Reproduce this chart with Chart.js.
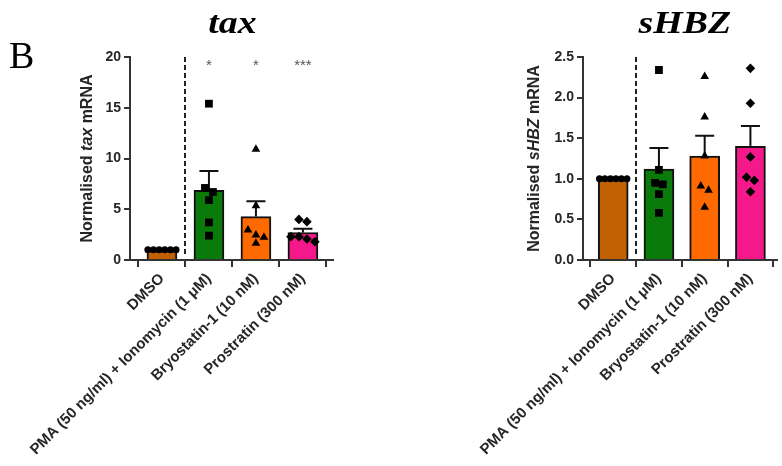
<!DOCTYPE html>
<html lang="en">
<head>
<meta charset="UTF-8" />
<title>tax and sHBZ mRNA</title>
<script src="https://cdn.jsdelivr.net/npm/chart.js"></script>
<style>
  body { margin: 0; background: #fff; }
  .wrap { position: relative; width: 782px; height: 466px; }
  canvas { position: absolute; top: 0; }
  #taxChart { left: 0; }
  #hbzChart { left: 391px; }
</style>
</head>
<body>
<div class="wrap">
  <canvas id="taxChart" width="391" height="466"></canvas>
  <canvas id="hbzChart" width="391" height="466"></canvas>
</div>
<script>
  // data
  const categories = ['DMSO', 'PMA (50 ng/ml) + Ionomycin (1 μM)', 'Bryostatin-1 (10 nM)', 'Prostratin (300 nM)'];

  const taxMean = [1.0, 6.87, 4.28, 2.71];
  const taxSem = [0, 1.9, 1.5, 0.37];
  const taxPoints = [
    [1, 1, 1, 1, 1, 1],
    [15.4, 7.1, 6.7, 5.9, 3.7, 2.4],
    [10.9, 5.35, 2.96, 2.46, 2.24, 1.64],
    [4.0, 3.78, 2.3, 2.3, 2.07, 1.8]
  ];
  const taxStars = ['', '*', '*', '***'];
  const taxTicks = [0, 5, 10, 15, 20];

  const hbzMean = [1.0, 1.12, 1.28, 1.40];
  const hbzSem = [0, 0.26, 0.25, 0.25];
  const hbzPoints = [
    [1, 1, 1, 1, 1, 1],
    [2.34, 1.11, 0.95, 0.93, 0.81, 0.58],
    [2.26, 1.76, 1.28, 0.91, 0.86, 0.65],
    [2.36, 1.93, 1.27, 1.02, 0.98, 0.84]
  ];
  const hbzStars = ['', '', '', ''];
  const hbzTicks = [0, 0.5, 1.0, 1.5, 2.0, 2.5];

  const barColors = ['#c16104', '#0a7b0a', '#ff6a00', '#f5188b'];
  const markerStyles = ['circle', 'rect', 'triangle', 'rectRot'];
  const markerSizes = [3.5, 5.5, 5, 4.8];

  const SANS = '"Liberation Sans", Arial, sans-serif';
  const SERIF = '"Liberation Serif", "Times New Roman", serif';
  const INK = '#262626';

  // spread points that sit too close vertically, like a column scatter
  function swarm(vals, cat, range) {
    const thr = range * 0.028;
    const sorted = vals.slice().sort((a, b) => b - a);
    const out = [];
    let group = [sorted[0]];
    const flush = () => {
      const n = group.length;
      const d = n > 1 ? Math.min(0.17, 0.6 / (n - 1)) : 0;
      group.forEach((v, i) => out.push({ x: cat + (i - (n - 1) / 2) * d, y: v }));
    };
    for (let i = 1; i < sorted.length; i++) {
      if (sorted[i - 1] - sorted[i] < thr) group.push(sorted[i]);
      else { flush(); group = [sorted[i]]; }
    }
    flush();
    return out;
  }

  function buildChart(id, opt) {
    const datasets = [{
      type: 'bar',
      data: opt.mean.map((v, i) => ({ x: i, y: v })),
      backgroundColor: barColors,
      borderColor: '#111',
      borderWidth: 2,
      borderSkipped: 'start',
      barThickness: 30,
      order: 1
    }];
    opt.points.forEach((vals, i) => {
      datasets.push({
        type: 'scatter',
        data: swarm(vals, i, opt.yMax),
        pointStyle: markerStyles[i],
        pointRadius: markerSizes[i],
        backgroundColor: '#000',
        borderColor: '#000',
        borderWidth: 0,
        order: 0
      });
    });

    const extras = {
      id: 'extras',
      afterDatasetDraw(chart, args) {
        if (args.index !== 0) return;
        const { ctx, scales: { x, y } } = chart;
        ctx.save();
        ctx.strokeStyle = '#111';
        ctx.lineWidth = 2;
        opt.mean.forEach((m, i) => {
          if (!opt.sem[i]) return;
          const px = x.getPixelForValue(i);
          const top = y.getPixelForValue(m + opt.sem[i]);
          ctx.beginPath();
          ctx.moveTo(px, y.getPixelForValue(m));
          ctx.lineTo(px, top);
          ctx.moveTo(px - 9.5, top);
          ctx.lineTo(px + 9.5, top);
          ctx.stroke();
        });
        ctx.restore();
      },
      afterDraw(chart) {
        const { ctx, chartArea: a, scales: { x, y } } = chart;
        ctx.save();
        // dashed separator after the DMSO control
        const dx = Math.round(x.getPixelForValue(0.5));
        ctx.strokeStyle = '#222';
        ctx.lineWidth = 2;
        ctx.setLineDash([5, 3]);
        ctx.beginPath();
        ctx.moveTo(dx, a.top);
        ctx.lineTo(dx, a.bottom - 3);
        ctx.stroke();
        ctx.setLineDash([]);

        // significance stars
        ctx.fillStyle = '#555';
        ctx.font = '15px ' + SANS;
        ctx.textAlign = 'center';
        ctx.textBaseline = 'top';
        opt.stars.forEach((s, i) => {
          if (s) ctx.fillText(s, x.getPixelForValue(i), a.top + 1);
        });

        // gene title, a little stretched sideways like the figure
        ctx.save();
        ctx.fillStyle = '#000';
        ctx.font = 'italic bold 31px ' + SERIF;
        ctx.textBaseline = 'alphabetic';
        ctx.translate(x.getPixelForValue(1.5) + opt.titleShift, 33);
        ctx.scale(1.22, 1);
        ctx.fillText(opt.gene, 0, 0);
        ctx.restore();

        // y axis title with the gene name in italics
        const parts = [['bold 16px ' + SANS, 'Normalised '], ['italic bold 16px ' + SANS, opt.gene], ['bold 16px ' + SANS, ' mRNA']];
        let total = 0;
        parts.forEach(p => { ctx.font = p[0]; total += ctx.measureText(p[1]).width; });
        ctx.translate(opt.yTitleX, (a.top + a.bottom) / 2);
        ctx.rotate(-Math.PI / 2);
        ctx.textAlign = 'left';
        ctx.textBaseline = 'middle';
        ctx.fillStyle = INK;
        let cx = -total / 2;
        parts.forEach(p => { ctx.font = p[0]; ctx.fillText(p[1], cx, 0); cx += ctx.measureText(p[1]).width; });
        ctx.restore();

        if (opt.panel) {
          ctx.save();
          ctx.fillStyle = '#000';
          ctx.font = '38px ' + SERIF;
          ctx.textBaseline = 'alphabetic';
          ctx.fillText(opt.panel, 9, 68);
          ctx.restore();
        }
      }
    };

    return new Chart(document.getElementById(id), {
      type: 'bar',
      data: { datasets },
      plugins: [extras],
      options: {
        responsive: false,
        animation: false,
        events: [],
        layout: { padding: { top: 57, right: opt.padRight, left: 0, bottom: 0 } },
        plugins: { legend: { display: false }, tooltip: { enabled: false } },
        scales: {
          x: {
            type: 'linear',
            offset: false,
            min: opt.xMin,
            max: opt.xMax,
            afterFit: s => { s.height = 206; },
            ticks: {
              stepSize: 1,
              includeBounds: false,
              autoSkip: false,
              minRotation: 45,
              maxRotation: 45,
              padding: 3,
              color: INK,
              font: { family: SANS, size: 15, weight: 'bold' },
              callback: v => categories[v] ?? ''
            },
            grid: { drawOnChartArea: false, drawTicks: true, tickLength: 7, color: '#333', lineWidth: 2 },
            border: { display: true, color: '#333', width: 2 }
          },
          y: {
            min: 0,
            max: opt.yMax,
            afterFit: s => { s.width = opt.yAxisWidth; },
            afterBuildTicks: s => { s.ticks = opt.ticks.map(v => ({ value: v })); },
            ticks: {
              color: INK,
              padding: 3,
              font: { family: SANS, size: 14, weight: 'bold' },
              callback: v => opt.fmt(v)
            },
            grid: { drawOnChartArea: false, drawTicks: true, tickLength: 6, color: '#333', lineWidth: 2 },
            border: { display: true, color: '#333', width: 2 }
          }
        }
      }
    });
  }

  buildChart('taxChart', {
    gene: 'tax', mean: taxMean, sem: taxSem, points: taxPoints, stars: taxStars,
    ticks: taxTicks, yMax: 20, fmt: v => String(v),
    xMin: -0.68, xMax: 3.64, yAxisWidth: 130, padRight: 58,
    yTitleX: 88, titleShift: 0, panel: 'B'
  });

  buildChart('hbzChart', {
    gene: 'sHBZ', mean: hbzMean, sem: hbzSem, points: hbzPoints, stars: hbzStars,
    ticks: hbzTicks, yMax: 2.5, fmt: v => v.toFixed(1),
    xMin: -0.66, xMax: 3.57, yAxisWidth: 192, padRight: 0,
    yTitleX: 144, titleShift: 3, panel: ''
  });
</script>
</body>
</html>
